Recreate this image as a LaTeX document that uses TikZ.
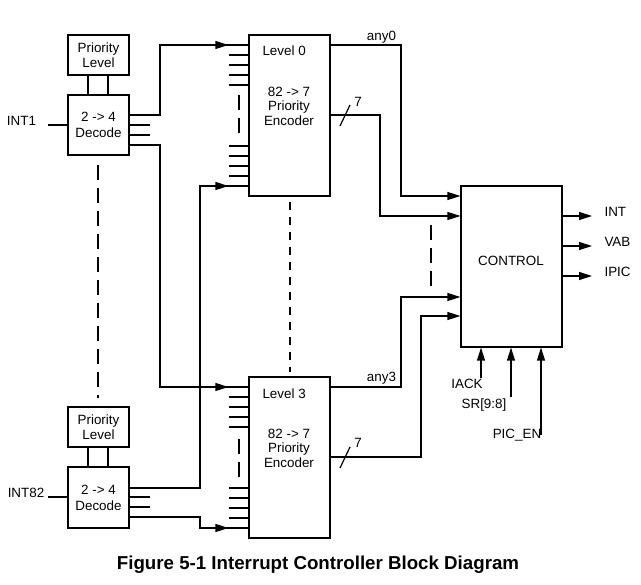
\documentclass[tikz,border=0pt]{standalone}
\usepackage{fontspec}
\setmainfont{Liberation Sans}
\usetikzlibrary{arrows.meta,decorations.markings}

\tikzset{
  blk/.style={draw,line width=1.2pt,inner sep=0pt,align=center},
  wire/.style={line width=1.2pt},
  arr/.style={wire,-{Triangle[length=13pt,width=8pt]}},
  midarr/.style={wire,postaction={decorate},decoration={markings,
      mark=at position -20pt with {\arrow{Triangle[length=13pt,width=8pt]}}}},
  longgap/.style={line width=1.2pt,dash pattern=on 15pt off 8pt},
  shortgap/.style={line width=1.2pt,dash pattern=on 8pt off 7pt},
}

\begin{document}
\begin{tikzpicture}[x=1pt,y=-1pt,font=\fontsize{13.4}{14.5}\selectfont]
  \useasboundingbox (0,0) rectangle (641,585);

  % decoders and priority levels
  \node[blk,minimum width=61pt,minimum height=40pt] (plv1) at (98.5,55) {Priority\\Level};
  \node[blk,minimum width=61pt,minimum height=60pt] (dec1) at (98.5,125) {2 -> 4\\[1.5pt]Decode};
  \node[blk,minimum width=61pt,minimum height=40pt] (plv2) at (98.5,427) {Priority\\Level};
  \node[blk,minimum width=61pt,minimum height=61pt] (dec2) at (98.5,497.5) {2 -> 4\\[1.5pt]Decode};
  \draw[wire] (plv1.south -| 88,0) -- (dec1.north -| 88,0);
  \draw[wire] (plv1.south -| 108,0) -- (dec1.north -| 108,0);
  \draw[wire] (plv2.south -| 88,0) -- (dec2.north -| 88,0);
  \draw[wire] (plv2.south -| 108,0) -- (dec2.north -| 108,0);
  \node (int1) at (21.5,121) {INT1};
  \node (int82) at (26,493) {INT82};
  \coordinate (in1) at (48,125);
  \coordinate (in82) at (48,497);
  \draw[wire] (in1) -- (dec1.west |- in1);
  \draw[wire] (in82) -- (dec2.west |- in82);
  \draw[wire] (dec1.east |- 0,125) -- (150,125);
  \draw[wire] (dec1.east |- 0,135) -- (150,135);
  \draw[wire] (dec2.east |- 0,497) -- (150,497);
  \draw[wire] (dec2.east |- 0,507) -- (150,507);
  \draw[longgap] (98,165) -- (98,398);

  % priority encoders
  \node[blk,minimum width=81pt,minimum height=161pt] (lvl0) at (289.5,115.5) {};
  \node[blk,minimum width=81pt,minimum height=161pt] (lvl3) at (289.5,457.5) {};
  \node[anchor=west] (name0) at (259,51) {Level 0};
  \node[anchor=west] (name3) at (259,393.5) {Level 3};
  \node[align=center] (enc0) at (289,106) {82 -> 7\\Priority\\Encoder};
  \node[align=center] (enc3) at (289,448) {82 -> 7\\Priority\\Encoder};
  \foreach \y in {55,65,75,85,146,156,166,176}
    \draw[wire] (229,\y) -- (lvl0.west |- 0,\y);
  \foreach \y in {397,407,417,427,488,498,508,518}
    \draw[wire] (229,\y) -- (lvl3.west |- 0,\y);
  \draw[longgap] (239,95) -- (239,137);
  \draw[longgap] (239,439) -- (239,480);
  \draw[shortgap] (290,202) -- (290,372);

  % decoder outputs to encoders
  \draw[midarr] (dec1.east |- 0,115) -| (160,45) -- (lvl0.west |- 0,45);
  \draw[midarr] (dec1.east |- 0,145) -| (160,387) -- (lvl3.west |- 0,387);
  \draw[midarr] (dec2.east |- 0,488) -| (200,186) -- (lvl0.west |- 0,186);
  \draw[midarr] (dec2.east |- 0,517) -| (200,528) -- (lvl3.west |- 0,528);

  % control block
  \node[blk,minimum width=101pt,minimum height=161pt] (ctrl) at (511.5,266.5) {};
  \node (ctrltxt) at (511,261) {CONTROL};
  \draw[arr] (lvl0.east |- 0,45) -| (401,196) -- (ctrl.west |- 0,196);
  \draw[arr] (lvl0.east |- 0,115) -| (380,216) -- (ctrl.west |- 0,216);
  \draw[arr] (lvl3.east |- 0,387) -| (401,297) -- (ctrl.west |- 0,297);
  \draw[arr] (lvl3.east |- 0,457) -| (421,316) -- (ctrl.west |- 0,316);
  \draw[longgap] (431,225) -- (431,290);
  \node (any0) at (381.5,37) {any0};
  \node (any3) at (381.5,378) {any3};
  \draw[wire] (340,126) -- (350,105);
  \draw[wire] (340,468) -- (350,447);
  \node (w0) at (358,102) {7};
  \node (w3) at (358,443) {7};

  % outputs
  \coordinate (oint) at (592,216);
  \coordinate (ovab) at (592,246);
  \coordinate (oipic) at (592,276);
  \draw[arr] (ctrl.east |- oint) -- (oint);
  \draw[arr] (ctrl.east |- ovab) -- (ovab);
  \draw[arr] (ctrl.east |- oipic) -- (oipic);
  \node[anchor=west] (intlbl) at (601,212) {INT};
  \node[anchor=west] (vablbl) at (601,242) {VAB};
  \node[anchor=west] (ipiclbl) at (601,272) {IPIC};

  % inputs from below
  \coordinate (iiack) at (481,378);
  \coordinate (isr) at (511,397);
  \coordinate (ipic) at (541,435);
  \draw[arr] (iiack) -- (ctrl.south -| iiack);
  \draw[arr] (isr) -- (ctrl.south -| isr);
  \draw[arr] (ipic) -- (ctrl.south -| ipic);
  \node (iack) at (467,384) {IACK};
  \node (sr) at (484,405) {SR[9:8]};
  \node (picen) at (517,435) {PIC\_EN};

  \node[font=\fontsize{18.7}{20}\selectfont\bfseries] (title) at (318,565)
    {Figure 5-1 Interrupt Controller Block Diagram};
\end{tikzpicture}
\end{document}
